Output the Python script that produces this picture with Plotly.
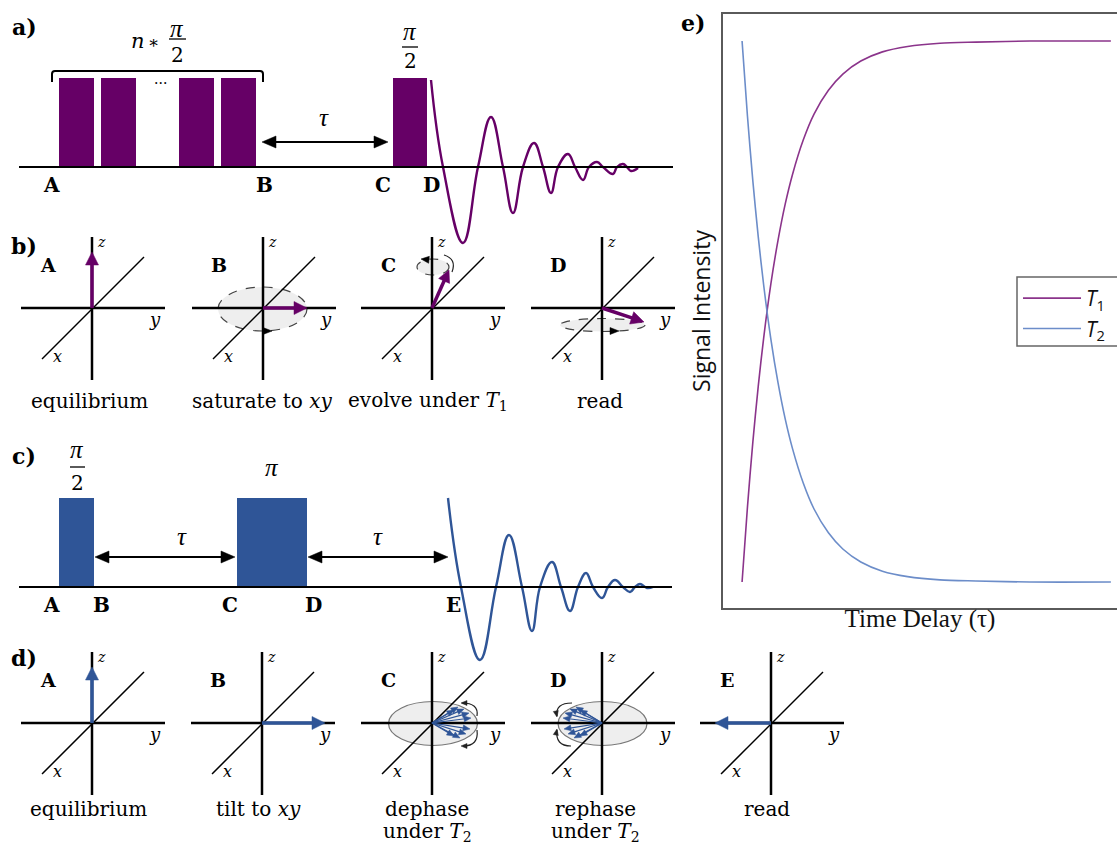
import math
import plotly.graph_objects as go

# ---------------- data ----------------
# panel e: normalised signal vs. delay (delay in units of the relaxation time)
tau = [0.0, 0.15, 0.3, 0.45, 0.6, 0.8, 1.0, 1.2, 1.4, 1.7, 2.0, 2.4, 2.8, 3.3, 3.9, 4.6, 5.5, 6.5, 8.0, 10.25]
t1_signal = [0.000, 0.139, 0.259, 0.362, 0.451, 0.551, 0.632, 0.699, 0.753, 0.817, 0.865, 0.909,
             0.939, 0.963, 0.980, 0.990, 0.996, 0.998, 1.000, 1.000]
t2_signal = [1.000, 0.861, 0.741, 0.638, 0.549, 0.449, 0.368, 0.301, 0.247, 0.183, 0.135, 0.091,
             0.061, 0.037, 0.020, 0.010, 0.004, 0.002, 0.000, 0.000]
series_names = ["<i>T</i><sub>1</sub>", "<i>T</i><sub>2</sub>"]
x_title = "Time Delay (τ)"
y_title = "Signal Intensity"

# panels a / c: pulse sequences (pulse start, pulse end) on the sequence time line
sat_pulses_a = [(59, 94), (101, 136), (179, 214), (221, 256)]
read_pulse_a = [(393, 427)]
pulses_c = [(59, 94), (237, 307)]
labels_a = ["A", "B", "C", "D"]
labels_c = ["A", "B", "C", "D", "E"]

# free induction decays (time, signal)
fid_a_t = [431, 443, 463, 478, 491, 503, 513, 523, 534, 543, 551, 558, 568, 575, 583, 589, 597, 603, 613, 617, 623, 627, 631, 638]
fid_a_s = [80, 167, 243, 167, 117, 167, 213, 167, 143, 167, 193, 167, 154, 167, 180, 167, 162, 167, 174, 167, 164, 167, 171, 168]
fid_c_t = [448, 461, 480, 496, 509, 522, 532, 540, 552, 561, 570, 578, 586, 593, 602, 608, 615, 623, 630, 635, 640, 647, 653]
fid_c_s = [498, 587, 660, 587, 535, 587, 631, 587, 562, 587, 611, 587, 573, 587, 598, 587, 580, 587, 592, 587, 584, 588, 587]

# vector diagram captions
captions_b = ["equilibrium", "saturate to <i>xy</i>", "evolve under <i>T</i><sub>1</sub>", "read"]
captions_d = ["equilibrium", "tilt to <i>xy</i>", "dephase<br>under <i>T</i><sub>2</sub>",
              "rephase<br>under <i>T</i><sub>2</sub>", "read"]

# ---------------- style ----------------
W, H = 1117, 848
PURPLE = "#660066"
BLUE = "#2F5597"
T1_COLOR = "#8B348B"
T2_COLOR = "#6C8DC9"
SERIF = "DejaVu Serif"
GREEK = "Liberation Serif"
SANS = "Open Sans"

shapes = []
annotations = []


def line(x0, y0, x1, y1, w=2.5, color="black", dash=None):
    d = dict(type="line", xref="x2", yref="y2", x0=x0, y0=y0, x1=x1, y1=y1,
             line=dict(color=color, width=w))
    if dash:
        d["line"]["dash"] = dash
    shapes.append(d)


def head(xt, yt, ux, uy, hl, hw, color):
    bx, by = xt - ux * hl, yt - uy * hl
    px, py = -uy, ux
    path = (f"M {xt:.2f},{yt:.2f} L {bx + px * hw / 2:.2f},{by + py * hw / 2:.2f} "
            f"L {bx - px * hw / 2:.2f},{by - py * hw / 2:.2f} Z")
    shapes.append(dict(type="path", xref="x2", yref="y2", path=path,
                       fillcolor=color, line=dict(color=color, width=0.5)))


def arrow(x0, y0, x1, y1, color="black", w=2, hl=12, hw=11, both=False):
    dx, dy = x1 - x0, y1 - y0
    L = math.hypot(dx, dy)
    ux, uy = dx / L, dy / L
    head(x1, y1, ux, uy, hl, hw, color)
    sx, sy = x0, y0
    if both:
        head(x0, y0, -ux, -uy, hl, hw, color)
        sx, sy = x0 + ux * (hl - 1), y0 + uy * (hl - 1)
    line(sx, sy, x1 - ux * (hl - 1), y1 - uy * (hl - 1), w, color)


def curved(path, color="#222", w=1.2):
    shapes.append(dict(type="path", xref="x2", yref="y2", path=path,
                       line=dict(color=color, width=w)))


def ellipse(cx, cy, rx, ry, dash=None, outline="#444", fill="#EEEEEE", w=1.2):
    d = dict(type="circle", xref="x2", yref="y2", x0=cx - rx, x1=cx + rx, y0=cy - ry, y1=cy + ry,
             fillcolor=fill, line=dict(color=outline, width=w))
    if dash:
        d["line"]["dash"] = dash
    shapes.append(d)


def rect(x0, y0, x1, y1, color):
    shapes.append(dict(type="rect", xref="x2", yref="y2", x0=x0, x1=x1, y0=y0, y1=y1,
                       fillcolor=color, line=dict(width=0)))


def text(x, y, s, size=20, bold=False, italic=False, family=SERIF, color="black", xanchor="center"):
    if italic:
        s = f"<i>{s}</i>"
    if bold:
        s = f"<b>{s}</b>"
    annotations.append(dict(x=x, y=y, xref="x2", yref="y2", text=s, showarrow=False,
                            xanchor=xanchor, yanchor="middle",
                            font=dict(family=family, size=size, color=color)))


def frame3d(ox, oy, letter):
    line(ox, oy - 71, ox, oy + 72, 2.5)
    line(ox - 71, oy, ox + 73, oy, 2.5)
    line(ox - 50, oy + 51, ox + 52, oy - 51, 1.5)
    text(ox + 9, oy - 66, "z", 14, italic=True)
    text(ox + 63, oy + 11, "y", 18, italic=True)
    text(ox - 35, oy + 48, "x", 16, italic=True)
    text(ox - 44, oy - 43, letter, 19, bold=True)


# ---------------- panel a ----------------
text(24, 27, "a)", 22, bold=True)
for (s, e) in sat_pulses_a + read_pulse_a:
    rect(s, 78, e, 167, PURPLE)
line(19, 167, 673, 167, 2.2)
curved("M 52,82 L 52,74 Q 52,71 55,71 L 260,71 Q 263,71 263,74 L 263,82", "black", 2)
text(160, 83, "···", 14)
text(138, 41, "n", 21, italic=True)
text(154, 42, "∗", 17)
text(177, 28, "π", 25, italic=True, family=GREEK)
line(169, 39, 186, 39, 1.3)
text(177, 55, "2", 20)
text(410, 31, "π", 25, italic=True, family=GREEK)
line(402, 47, 418, 47, 1.3)
text(410, 61, "2", 20)
arrow(262, 142, 388, 142, "black", 2, 14, 12, both=True)
text(324, 117, "τ", 25, italic=True, family=GREEK)
for lab, xx in zip(labels_a, [51, 264, 383, 431]):
    text(xx, 185, lab, 20, bold=True)

# ---------------- panel b ----------------
text(24, 246, "b)", 22, bold=True)
# A
frame3d(92, 308, "A")
arrow(92, 308, 92, 252, PURPLE, 3.5, 13, 13)
# B
ellipse(262.5, 309, 44.5, 22, dash="dash")
frame3d(263, 308, "B")
head(272, 331, 1, 0, 9, 7, "black")
arrow(263, 308, 307, 308, PURPLE, 3.5, 13, 13)
# C
ellipse(433, 267, 16, 8, dash="dash")
frame3d(432, 308, "C")
head(421, 259, -1, -0.1, 8, 7, "black")
curved("M 444,255 Q 457,259 452,272", "#222", 1.2)
arrow(432, 308, 449, 270, PURPLE, 3.5, 12, 12)
# D
ellipse(602.5, 325, 42.5, 6.5, dash="dash")
frame3d(602, 308, "D")
head(619, 331, 1, 0, 9, 7, "black")
arrow(602, 308, 644, 322, PURPLE, 3.5, 13, 13)
for cap, xx in zip(captions_b, [89, 262, 428, 600]):
    text(xx, 401, cap, 20)

# ---------------- panel c ----------------
text(24, 456, "c)", 22, bold=True)
for (s, e) in pulses_c:
    rect(s, 498, e, 587, BLUE)
line(19, 587, 672, 587, 2.2)
text(77, 449, "π", 25, italic=True, family=GREEK)
line(70, 467, 85, 467, 1.3)
text(77, 483, "2", 20)
text(272, 467, "π", 25, italic=True, family=GREEK)
arrow(95, 557, 235, 557, "black", 2, 14, 12, both=True)
arrow(308, 557, 448, 557, "black", 2, 14, 12, both=True)
text(182, 536, "τ", 25, italic=True, family=GREEK)
text(378, 536, "τ", 25, italic=True, family=GREEK)
for lab, xx in zip(labels_c, [51, 101, 230, 313, 453]):
    text(xx, 605, lab, 20, bold=True)

# ---------------- panel d ----------------
text(24, 658, "d)", 22, bold=True)
frame3d(92, 723, "A")
arrow(92, 723, 92, 667, BLUE, 3.5, 13, 13)
frame3d(262, 723, "B")
arrow(262, 723, 325, 723, BLUE, 3.5, 13, 13)
# C (dephase)
ellipse(433, 723.5, 44.5, 22, outline="#777", fill="#EEEEEE")
frame3d(432, 723, "C")
fan = [(26, -16), (32, -14), (37, -10), (39, -5), (38, 6), (34, 11), (28, 15), (22, -13), (22, 13)]
for fx, fy in fan:
    arrow(432, 723, 432 + fx, 723 + fy, BLUE, 1.2, 7, 6)
curved("M 462,703 Q 479,703 477,716", "#222", 1.2)
head(461, 703, -1, 0, 6, 5, "#222")
curved("M 477,730 Q 479,746 463,746", "#222", 1.2)
head(461, 746, -1, 0, 6, 5, "#222")
# D (rephase)
ellipse(602.5, 723.5, 44.5, 22, outline="#777", fill="#EEEEEE")
frame3d(602, 723, "D")
for fx, fy in fan:
    arrow(602, 723, 602 - fx, 723 + fy, BLUE, 1.2, 7, 6)
curved("M 572,703 Q 555,703 557,716", "#222", 1.2)
head(557, 717, 0.2, 1, 6, 5, "#222")
curved("M 557,730 Q 555,746 571,746", "#222", 1.2)
head(557, 729, 0.2, -1, 6, 5, "#222")
# E (read)
frame3d(771, 723, "E")
arrow(771, 723, 715, 723, BLUE, 3.5, 13, 13)
for cap, xx in zip(captions_d, [88, 258, 427, 595, 767]):
    if "<br>" in cap:
        a, b = cap.split("<br>")
        text(xx, 809, a, 20)
        text(xx, 832, b, 20)
    else:
        text(xx, 809, cap, 20)

text(693, 23, "e)", 22, bold=True)

# legend frame of panel e (runs off the right edge as in the original)
shapes.append(dict(type="rect", xref="x2", yref="y2", x0=1017, x1=1130, y0=277, y1=346,
                   fillcolor="white", line=dict(color="#666", width=1.5), layer="below"))

# ---------------- figure ----------------
fig = go.Figure()
fig.add_trace(go.Scatter(x=tau, y=t1_signal, mode="lines", name=series_names[0],
                         line=dict(color=T1_COLOR, width=1.6, shape="spline", smoothing=0.8)))
fig.add_trace(go.Scatter(x=tau, y=t2_signal, mode="lines", name=series_names[1],
                         line=dict(color=T2_COLOR, width=1.6, shape="spline", smoothing=0.8)))
fig.add_trace(go.Scatter(x=fid_a_t, y=fid_a_s, mode="lines", xaxis="x2", yaxis="y2", showlegend=False,
                         line=dict(color=PURPLE, width=2.4, shape="spline", smoothing=1.2), hoverinfo="skip"))
fig.add_trace(go.Scatter(x=fid_c_t, y=fid_c_s, mode="lines", xaxis="x2", yaxis="y2", showlegend=False,
                         line=dict(color=BLUE, width=2.4, shape="spline", smoothing=1.2), hoverinfo="skip"))

ax_line = dict(showline=True, linecolor="#5a5a5a", linewidth=1.8, showgrid=False, zeroline=False,
               showticklabels=False, ticks="")
fig.update_layout(
    width=W, height=H, margin=dict(l=0, r=0, t=0, b=0),
    paper_bgcolor="white", plot_bgcolor="rgba(0,0,0,0)",
    xaxis=dict(domain=[723 / W, 1.0], range=[-0.53, 10.42], mirror=True,
               title=dict(text=x_title, font=dict(family="Liberation Serif", size=25, color="#111"), standoff=1),
               **ax_line),
    yaxis=dict(domain=[1 - 608 / H, 1 - 14 / H], range=[-0.048, 1.05], mirror=False,
               title=dict(text=y_title, font=dict(family=SANS, size=23, color="#111"), standoff=4),
               **ax_line),
    xaxis2=dict(domain=[0, 1], range=[0, W], visible=False, anchor="y2"),
    yaxis2=dict(domain=[0, 1], range=[H, 0], visible=False, anchor="x2"),
    shapes=shapes, annotations=annotations,
    showlegend=True,
    legend=dict(x=1018 / W, y=1 - 278 / H, xanchor="left", yanchor="top",
                borderwidth=0, bgcolor="rgba(0,0,0,0)",
                font=dict(family=SANS, size=21, color="#111"), itemwidth=58, tracegroupgap=0),
)
fig.write_html("out.html")
